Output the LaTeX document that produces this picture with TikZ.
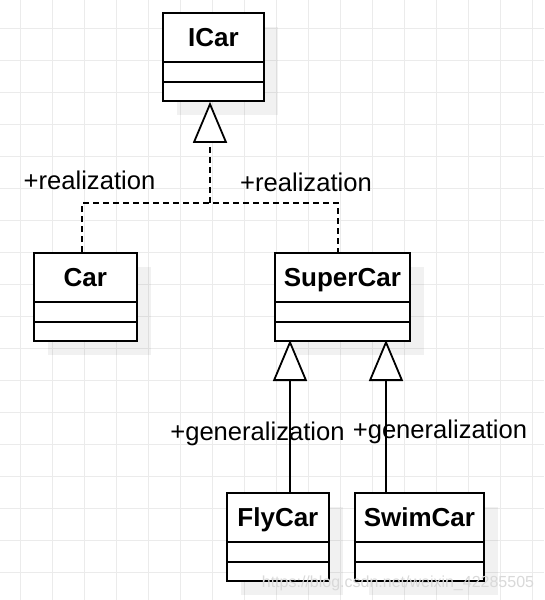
\documentclass[tikz,border=0pt]{standalone}
\usepackage{fontspec}
\setmainfont{Liberation Sans}
\usetikzlibrary{arrows.meta,shadows}
\begin{document}
\begin{tikzpicture}[x=1pt,y=-1pt,
  gridline/.style={draw=black!8, line width=1pt},
  cls/.style={draw, line width=1.8pt, fill=white, rectangle, inner sep=0pt,
    anchor=north west, minimum height=88pt,
    drop shadow={shadow xshift=14pt, shadow yshift=-14pt, fill=black, opacity=0.055}},
  divider/.style={line width=1.8pt},
  title/.style={font=\fontsize{26}{30}\selectfont\bfseries, anchor=base, inner sep=0pt},
  lbl/.style={font=\fontsize{25.6}{30}\selectfont, anchor=base, inner sep=0pt},
  conn/.style={line width=1.8pt},
  real/.style={conn, dash pattern=on 6pt off 4pt},
  tri/.style={-{Triangle[length=41pt, width=34pt, fill=white, line width=1.8pt]}}
]
\useasboundingbox (0,0) rectangle (544,600);
\fill[white] (0,0) rectangle (544,600);
\foreach \x in {20,52,...,532} \draw[gridline] (\x,0) -- (\x,600);
\foreach \y in {28,60,...,572} \draw[gridline] (0,\y) -- (544,\y);

% classes
\node[cls, minimum width=101pt] (icar) at (162,12) {};
\node[cls, minimum width=103pt] (car) at (33,252) {};
\node[cls, minimum width=135pt] (supercar) at (274,252) {};
\node[cls, minimum width=102pt] (flycar) at (226,492) {};
\node[cls, minimum width=129pt] (swimcar) at (354,492) {};

\foreach \n in {icar,car,supercar,flycar,swimcar}{
  \draw[divider] ([yshift=-50pt]\n.north west) -- ([yshift=-50pt]\n.north east);
  \draw[divider] ([yshift=-70pt]\n.north west) -- ([yshift=-70pt]\n.north east);
}
\node[title] (icarT) at ([yshift=-34pt]icar.north) {ICar};
\node[title] (carT) at ([yshift=-34pt]car.north) {Car};
\node[title] (supercarT) at ([yshift=-34pt]supercar.north) {SuperCar};
\node[title] (flycarT) at ([yshift=-34pt]flycar.north) {FlyCar};
\node[title] (swimcarT) at ([yshift=-34pt]swimcar.north) {SwimCar};

% realization
\coordinate (jm) at (210,203);
\coordinate (jl) at (82,203);
\coordinate (jr) at (338,203);
\draw[real] (car.north -| jl) -- (jl) -- (jr) -- (supercar.north -| jr);
\draw[real, tri] (jm) -- (icar.south -| jm);

% generalization
\coordinate (g1) at (290,340);
\coordinate (g2) at (386,340);
\draw[conn, tri] (flycar.north -| g1) -- (g1);
\draw[conn, tri] (swimcar.north -| g2) -- (g2);

% labels
\node[lbl] (r1) at (89.5,189) {+realization};
\node[lbl] (r2) at (306,191) {+realization};
\node[lbl] (g1l) at (257.5,440) {+generalization};
\node[lbl] (g2l) at (440,438) {+generalization};

\node[font=\fontsize{16}{20}\selectfont, text=black!15, anchor=base, inner sep=0pt] (wm) at (398,587) {https://blog.csdn.net/weixin\_42285505};
\end{tikzpicture}
\end{document}
